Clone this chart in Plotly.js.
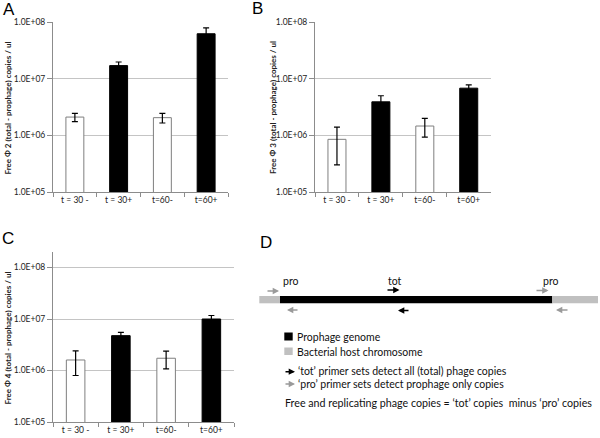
<!DOCTYPE html>
<html>
<head>
<meta charset="utf-8">
<script src="https://cdn.plot.ly/plotly-3.0.1.min.js"></script>
<style>html,body{margin:0;padding:0;background:#fff;}#chart{width:600px;height:438px;}</style>
</head>
<body>
<div id="chart"></div>
<script>
// ---- data ----
const categories = ['t = 30 -', 't = 30+', 't=60-', 't=60+'];
const phi2Values = [2.1e6, 1.7e7, 2.05e6, 6.2e7];
const phi2Errors = [0.35e6, 0.27e7, 0.4e6, 1.7e7];
const phi3Values = [8.5e5, 3.9e6, 1.46e6, 6.8e6];
const phi3Errors = [5.5e5, 1.1e6, 5.3e5, 1.0e6];
const phi4Values = [1.6e6, 4.75e6, 1.73e6, 1.0e7];
const phi4Errors = [0.8e6, 0.75e6, 0.65e6, 0.17e7];
const yTickVals = [1e5, 1e6, 1e7, 1e8];
const yTickText = ['1.0E+05', '1.0E+06', '1.0E+07', '1.0E+08'];
const yTitles = ['Free \u03A6 2 (total - prophage) copies / ul',
                 'Free \u03A6 3 (total - prophage) copies / ul',
                 'Free \u03A6 4 (total - prophage) copies / ul'];
const panelLetters = ['A', 'B', 'C', 'D'];
const legendLabels = ['Prophage genome', 'Bacterial host chromosome'];
const primerNotes = ['\u2018tot\u2019 primer sets detect all (total) phage copies',
                     '\u2018pro\u2019 primer sets detect prophage only copies'];
const summaryNote = 'Free and replicating phage copies = \u2018tot\u2019 copies  minus \u2018pro\u2019 copies';
const primerLabels = ['pro', 'tot', 'pro'];

// ---- styles ----
const W = 600, H = 438;
const FONT = 'Lato, "Open Sans", sans-serif';
const DFONT = 10.5;
const fillColors = ['#ffffff', '#000000', '#ffffff', '#000000'];
const lineColors = ['#7f7f7f', '#000000', '#7f7f7f', '#000000'];
const px = v => v / W;
const py = v => 1 - v / H;

function barTrace(vals, errs, xa, ya) {
  return {
    type: 'bar', x: categories, y: vals, xaxis: xa, yaxis: ya,
    width: 0.41,
    marker: {color: fillColors, line: {color: lineColors, width: 1}},
    error_y: {type: 'data', array: errs, visible: true, color: '#000', thickness: 1.2, width: 3},
    showlegend: false, hoverinfo: 'x+y'
  };
}

const data = [
  barTrace(phi2Values, phi2Errors, 'x', 'y'),
  barTrace(phi3Values, phi3Errors, 'x2', 'y2'),
  barTrace(phi4Values, phi4Errors, 'x3', 'y3')
];

function xAxis(dom, anchor) {
  return {
    domain: dom, anchor: anchor, type: 'category',
    showline: true, linecolor: '#8c8c8c', linewidth: 1,
    ticks: 'outside', tickson: 'boundaries', ticklen: 4, tickcolor: '#8c8c8c',
    showgrid: false, zeroline: false,
    tickfont: {family: FONT, size: 8.5, color: '#222'}, fixedrange: true
  };
}
function yAxis(dom, anchor, top) {
  return {
    domain: dom, anchor: anchor, type: 'log', range: [5, top],
    tickvals: yTickVals, ticktext: yTickText,
    showline: true, linecolor: '#8c8c8c', linewidth: 1,
    ticks: 'outside', ticklen: 5, tickcolor: '#8c8c8c',
    showgrid: true, gridcolor: '#c4c4c4', gridwidth: 1, zeroline: false,
    tickfont: {family: FONT, size: 8.5, color: '#222'}, fixedrange: true
  };
}

const annotations = [];
const shapes = [];

// panel letters
const letterPos = [[8.5, 9.5], [257, 9], [8, 238], [266, 242]];
panelLetters.forEach((t, i) => {
  annotations.push({text: t, xref: 'paper', yref: 'paper', x: px(letterPos[i][0]), y: py(letterPos[i][1]),
    xanchor: 'center', yanchor: 'middle', showarrow: false,
    font: {family: 'Liberation Sans, Arial, sans-serif', size: 17, color: '#000'}});
});

// y-axis titles
const yTitlePos = [[7.5, 108], [273, 108], [7.5, 338]];
yTitles.forEach((t, i) => {
  annotations.push({text: '<b>' + t + '</b>', xref: 'paper', yref: 'paper',
    x: px(yTitlePos[i][0]), y: py(yTitlePos[i][1]), textangle: -90,
    xanchor: 'center', yanchor: 'middle', showarrow: false,
    font: {family: FONT, size: 8, color: '#222'}});
});

// panel D diagram
const grey = '#c0c0c0';
const arrowGrey = '#9a9a9a';
shapes.push({type: 'rect', xref: 'paper', yref: 'paper', x0: px(259.3), x1: px(280), y0: py(303.3), y1: py(296), fillcolor: grey, line: {width: 0}});
shapes.push({type: 'rect', xref: 'paper', yref: 'paper', x0: px(280), x1: px(552.3), y0: py(303.3), y1: py(296), fillcolor: '#000', line: {width: 0}});
shapes.push({type: 'rect', xref: 'paper', yref: 'paper', x0: px(552.3), x1: px(598), y0: py(303.3), y1: py(296), fillcolor: grey, line: {width: 0}});

const primerTextPos = [[290, 281], [394.5, 280.5], [550.5, 280.5]];
primerLabels.forEach((t, i) => {
  annotations.push({text: t, xref: 'paper', yref: 'paper', x: px(primerTextPos[i][0]), y: py(primerTextPos[i][1]),
    xanchor: 'center', yanchor: 'middle', showarrow: false, font: {family: FONT, size: DFONT, color: '#111'}});
});

function arrow(tailX, headX, y, color) {
  annotations.push({text: '', xref: 'paper', yref: 'paper', x: px(headX), y: py(y),
    ax: tailX - headX, ay: 0, showarrow: true, arrowhead: 2, arrowsize: 0.9, arrowwidth: 1.4, arrowcolor: color});
}
arrow(266, 279, 291, arrowGrey);
arrow(299, 287, 310, arrowGrey);
arrow(386, 399.5, 290, '#000');
arrow(410, 398, 310.5, '#000');
arrow(535, 548.5, 290.5, arrowGrey);
arrow(569, 556, 310, arrowGrey);

// legend
shapes.push({type: 'rect', xref: 'paper', yref: 'paper', x0: px(284.3), x1: px(292.7), y0: py(340.5), y1: py(332.5), fillcolor: '#000', line: {width: 0}});
shapes.push({type: 'rect', xref: 'paper', yref: 'paper', x0: px(284.3), x1: px(292.7), y0: py(355), y1: py(347.5), fillcolor: grey, line: {width: 0}});
annotations.push({text: legendLabels[0], xref: 'paper', yref: 'paper', x: px(295), y: py(336.7), xanchor: 'left', yanchor: 'middle', showarrow: false, font: {family: FONT, size: DFONT, color: '#111'}});
annotations.push({text: legendLabels[1], xref: 'paper', yref: 'paper', x: px(295), y: py(351.5), xanchor: 'left', yanchor: 'middle', showarrow: false, font: {family: FONT, size: DFONT, color: '#111'}});
arrow(284, 295, 371.7, '#000');
arrow(284, 295, 384, arrowGrey);
annotations.push({text: primerNotes[0], xref: 'paper', yref: 'paper', x: px(296), y: py(371), xanchor: 'left', yanchor: 'middle', showarrow: false, font: {family: FONT, size: DFONT, color: '#111'}});
annotations.push({text: primerNotes[1], xref: 'paper', yref: 'paper', x: px(296), y: py(383.5), xanchor: 'left', yanchor: 'middle', showarrow: false, font: {family: FONT, size: DFONT, color: '#111'}});
annotations.push({text: summaryNote, xref: 'paper', yref: 'paper', x: px(283), y: py(402), xanchor: 'left', yanchor: 'middle', showarrow: false, font: {family: FONT, size: 10.7, color: '#111'}});

const layout = {
  width: W, height: H, margin: {l: 0, r: 0, t: 0, b: 0},
  paper_bgcolor: '#fff', plot_bgcolor: '#fff',
  font: {family: FONT},
  bargap: 0.59,
  xaxis: xAxis([px(53), px(228)], 'y'),
  yaxis: yAxis([py(192), py(22)], 'x', 8),
  xaxis2: xAxis([px(315), px(490.7)], 'y2'),
  yaxis2: yAxis([py(192), py(22)], 'x2', 8),
  xaxis3: xAxis([px(53), px(234)], 'y3'),
  yaxis3: yAxis([py(422), py(252)], 'x3', Math.log10(2e8)),
  annotations: annotations, shapes: shapes
};

Plotly.newPlot('chart', data, layout, {displayModeBar: false, staticPlot: true});
</script>
</body>
</html>
